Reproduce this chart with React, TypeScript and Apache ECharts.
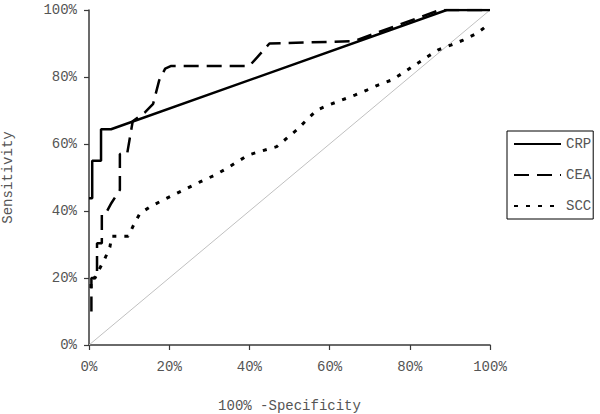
import React, { useEffect, useRef } from "react";
import * as echarts from "echarts";

// 100% - Specificity (x) and Sensitivity (y), in percent
const crpX = [0, 0.8, 0.8, 3, 3, 5.5, 89.2, 100];
const crpY = [43.8, 43.8, 55, 55, 64.4, 64.4, 100, 100];

const ceaX = [0.6, 0.6, 2, 2, 3.2, 3.2, 4.5, 5.6, 7.7, 7.7, 9.5, 10.9, 14, 16, 17.5, 19, 20.5, 40, 45, 66, 87.5, 100];
const ceaY = [10, 20, 20, 30.4, 30.4, 39.4, 40, 42.4, 46.3, 57, 57, 66.8, 69.5, 72, 79, 82.5, 83.3, 83.3, 90, 90.7, 100, 100];

const sccX = [0.5, 0.5, 1.5, 2.7, 4, 5.2, 5.7, 9.8, 11, 12.7, 15.6, 18.5, 21.9, 24.8, 27.7, 31, 33.9, 37, 39.7, 43, 46.8, 51.8, 54.3, 56.8, 59.7, 63, 66.3, 69.3, 72.1, 75.5, 78.4, 81.3, 84.2, 87.1, 90.4, 93.3, 96.7, 100];
const sccY = [17, 20, 20, 22.9, 25.9, 29.2, 32.5, 32.5, 35.5, 39.3, 41.5, 43.3, 45.3, 47, 48.7, 50.5, 52.4, 54.7, 56.7, 57.9, 59.2, 64.2, 67.2, 70.1, 71.6, 73.1, 74.6, 76.1, 77.6, 79.1, 81.3, 83.6, 85.9, 88.1, 89.6, 91, 93, 96];

const refX = [0, 100];
const refY = [0, 100];

const xTicks = [0, 20, 40, 60, 80, 100];
const seriesNames = ["CRP", "CEA", "SCC"];

const zip = (xs: number[], ys: number[]) => xs.map((x, i) => [x, ys[i]]);

const FONT = "'Liberation Mono', 'DejaVu Sans Mono', monospace";

export default function App() {
  const ref = useRef<HTMLDivElement>(null);
  useEffect(() => {
    if (!ref.current) return;
    const chart = echarts.init(ref.current, undefined, { renderer: "svg" });
    const axisCommon = {
      type: "value" as const,
      min: xTicks[0],
      max: xTicks[xTicks.length - 1],
      interval: 20,
      nameLocation: "middle" as const,
      nameTextStyle: { fontFamily: FONT, fontSize: 14, color: "#555" },
      axisLine: { show: true, lineStyle: { color: "#3a3a3a", width: 1.5 } },
      axisTick: { show: true, inside: false, length: 5, lineStyle: { color: "#3a3a3a", width: 1.2 } },
      splitLine: { show: false },
    };
    chart.setOption({
      animation: false,
      backgroundColor: "#fff",
      grid: { left: 89, right: 110, top: 10, bottom: 69, containLabel: false, outerBoundsMode: "none" },
      legend: {
        data: seriesNames,
        orient: "vertical",
        left: 507,
        top: 131,
        padding: [6, 2, 6, 6],
        itemWidth: 47,
        itemHeight: 14,
        itemGap: 17,
        borderColor: "#000",
        borderWidth: 1,
        textStyle: { fontFamily: FONT, fontSize: 14, color: "#555" },
        itemStyle: { opacity: 0, borderWidth: 0 },
      },
      xAxis: {
        ...axisCommon,
        name: "100% -Specificity",
        nameGap: 54,
        axisLabel: {
          formatter: "{value}%",
          margin: 15,
          fontFamily: FONT,
          fontSize: 14,
          color: "#555",
        },
      },
      yAxis: {
        ...axisCommon,
        name: "Sensitivity",
        nameGap: 74,
        axisLabel: {
          formatter: "{value}%",
          margin: 12,
          fontFamily: FONT,
          fontSize: 14,
          color: "#555",
        },
      },
      series: [
        {
          name: "ref",
          type: "line",
          data: zip(refX, refY),
          symbol: "none",
          silent: true,
          lineStyle: { color: "#c0c0c0", width: 1 },
          z: 1,
        },
        {
          name: "SCC",
          type: "line",
          data: zip(sccX, sccY),
          symbol: "none",
          itemStyle: { color: "#000" },
          lineStyle: { color: "#000", width: 3, type: [4, 8] },
          z: 2,
        },
        {
          name: "CEA",
          type: "line",
          data: zip(ceaX, ceaY),
          symbol: "none",
          itemStyle: { color: "#000" },
          lineStyle: { color: "#000", width: 2.5, type: [15, 8] },
          z: 3,
        },
        {
          name: "CRP",
          type: "line",
          data: zip(crpX, crpY),
          symbol: "none",
          itemStyle: { color: "#000" },
          lineStyle: { color: "#000", width: 2.5 },
          z: 4,
        },
      ],
    });
    return () => chart.dispose();
  }, []);
  return <div ref={ref} style={{ width: 600, height: 414, position: "fixed", left: 0, top: 0 }} />;
}
